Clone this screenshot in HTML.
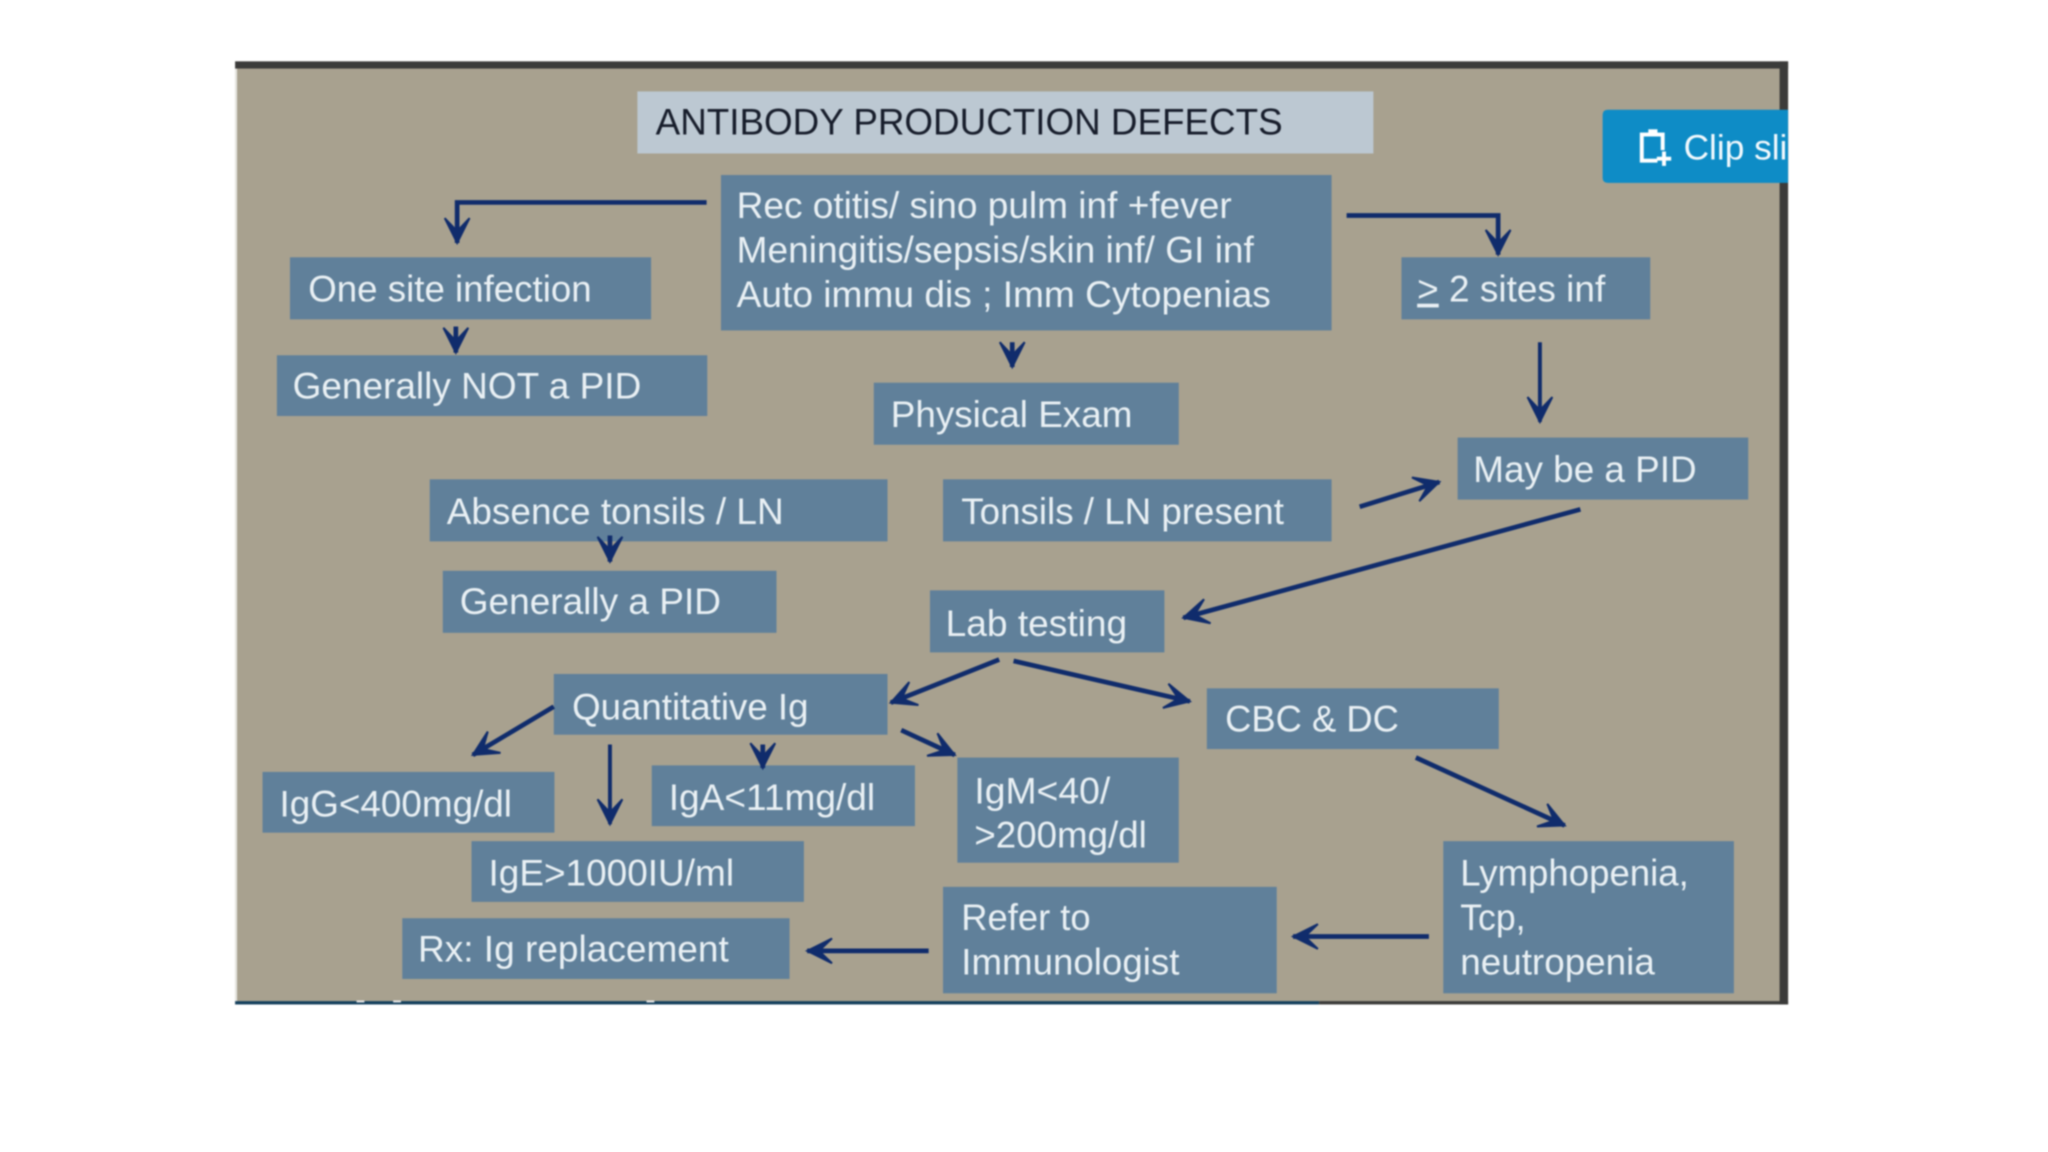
<!DOCTYPE html>
<html>
<head>
<meta charset="utf-8">
<title>Antibody Production Defects</title>
<style>
html,body{margin:0;padding:0;background:#fff;width:2048px;height:1152px;overflow:hidden}
svg{display:block;filter:blur(0.9px)}
text{font-family:"Liberation Sans",sans-serif;font-size:28.5px;fill:#e9f0f4}
.b{fill:#60809a}
.a{fill:none;stroke:#102c6c;stroke-width:3.6;marker-end:url(#h)}
.t{stroke-width:3}
</style>
</head>
<body>
<svg width="2048" height="1152" viewBox="0 0 1568 882" xmlns="http://www.w3.org/2000/svg">
<defs>
<marker id="h" markerUnits="userSpaceOnUse" markerWidth="40" markerHeight="40" refX="22" refY="20" orient="auto" viewBox="0 0 40 40">
<path d="M3 10.500 L22 20 L3 29.500 L13 20 Z" fill="#102c6c" stroke="#102c6c" stroke-width="1.500"/>
</marker>
<clipPath id="c"><rect x="1227" y="84" width="142" height="56"/></clipPath>
</defs>
<rect width="1568" height="882" fill="#fff"/>
<rect x="180" y="47" width="1189" height="722" fill="#a8a18f"/>
<rect x="180" y="47" width="1.500" height="721" fill="#e8e7e2"/>
<rect x="180" y="47" width="1189" height="5.500" fill="#3b3b3a"/>
<rect x="1362.500" y="47" width="6.500" height="722" fill="#3b3b3a"/>
<rect x="180" y="766.500" width="830" height="2.500" fill="#14405e"/>
<rect x="1010" y="766.500" width="359" height="2.500" fill="#3b3b3a"/>
<rect x="273" y="766" width="6" height="1.500" fill="#e8e8e8"/>
<rect x="301" y="766" width="6" height="1.500" fill="#e8e8e8"/>
<rect x="495" y="766" width="6" height="1.500" fill="#e8e8e8"/>

<rect x="488" y="70" width="563.500" height="47.500" fill="#bcc8d2"/>
<rect class="b" x="552" y="134" width="467.500" height="119"/>
<rect class="b" x="222" y="197" width="276.500" height="47.500"/>
<rect class="b" x="212" y="272" width="329.500" height="46.500"/>
<rect class="b" x="1073" y="197" width="190.500" height="47.500"/>
<rect class="b" x="669" y="293" width="233.500" height="47.500"/>
<rect class="b" x="1116" y="335" width="222.500" height="47.500"/>
<rect class="b" x="329" y="367" width="350.500" height="47.500"/>
<rect class="b" x="722" y="367" width="297.500" height="47.500"/>
<rect class="b" x="339" y="437" width="255.500" height="47.500"/>
<rect class="b" x="712" y="452" width="179.500" height="47.500"/>
<rect class="b" x="424" y="516" width="255.500" height="46.500"/>
<rect class="b" x="924" y="527" width="223.500" height="46.500"/>
<rect class="b" x="201" y="591" width="223.500" height="46.500"/>
<rect class="b" x="499" y="586" width="201.500" height="46.500"/>
<rect class="b" x="733" y="580" width="169.500" height="80.500"/>
<rect class="b" x="361" y="644" width="254.500" height="46.500"/>
<rect class="b" x="722" y="679" width="255.500" height="81.500"/>
<rect class="b" x="1105" y="644" width="222.500" height="116.500"/>
<rect class="b" x="308" y="703" width="296.500" height="46.500"/>

<path class="a" d="M541 155 H350 V186"/>
<path class="a" d="M349 250 V270"/>
<path class="a" d="M775 262 V281"/>
<path class="a" d="M1031 165 H1147 V195"/>
<path class="a t" d="M1179 262 V323"/>
<path class="a" d="M1041 388 L1102 369"/>
<path class="a" d="M1210 390 L906 473"/>
<path class="a" d="M467 410 V430"/>
<path class="a" d="M765 505 L682 538"/>
<path class="a" d="M776 506 L911 537"/>
<path class="a" d="M424 541 L362 578"/>
<path class="a t" d="M467 570 V631"/>
<path class="a" d="M584 570 V588"/>
<path class="a" d="M690 559 L731 578"/>
<path class="a" d="M1084 580 L1198 632"/>
<path class="a" d="M1094 717 H990"/>
<path class="a" d="M711 728 H618"/>

<text x="502" y="103" textLength="480" lengthAdjust="spacingAndGlyphs" style="fill:#171d2b">ANTIBODY PRODUCTION DEFECTS</text>
<text x="564" y="167" textLength="379" lengthAdjust="spacingAndGlyphs">Rec otitis/ sino pulm inf +fever</text>
<text x="564" y="201" textLength="396" lengthAdjust="spacingAndGlyphs">Meningitis/sepsis/skin inf/ GI inf</text>
<text x="564" y="235" textLength="409" lengthAdjust="spacingAndGlyphs">Auto immu dis ; Imm Cytopenias</text>
<text x="236" y="231" textLength="217" lengthAdjust="spacingAndGlyphs">One site infection</text>
<text x="224" y="305" textLength="267" lengthAdjust="spacingAndGlyphs">Generally NOT a PID</text>
<text x="1085" y="231" textLength="144" lengthAdjust="spacingAndGlyphs"><tspan text-decoration="underline">&gt;</tspan> 2 sites inf</text>
<text x="682" y="327" textLength="185" lengthAdjust="spacingAndGlyphs">Physical Exam</text>
<text x="1128" y="369" textLength="171" lengthAdjust="spacingAndGlyphs">May be a PID</text>
<text x="342" y="401" textLength="258" lengthAdjust="spacingAndGlyphs">Absence tonsils / LN</text>
<text x="736" y="401" textLength="247" lengthAdjust="spacingAndGlyphs">Tonsils / LN present</text>
<text x="352" y="470" textLength="200" lengthAdjust="spacingAndGlyphs">Generally a PID</text>
<text x="724" y="487" textLength="139" lengthAdjust="spacingAndGlyphs">Lab testing</text>
<text x="438" y="551" textLength="181" lengthAdjust="spacingAndGlyphs">Quantitative Ig</text>
<text x="938" y="560" textLength="133" lengthAdjust="spacingAndGlyphs">CBC &amp; DC</text>
<text x="214" y="625" textLength="178" lengthAdjust="spacingAndGlyphs">IgG&lt;400mg/dl</text>
<text x="512" y="620" textLength="158" lengthAdjust="spacingAndGlyphs">IgA&lt;11mg/dl</text>
<text x="746" y="615" textLength="104" lengthAdjust="spacingAndGlyphs">IgM&lt;40/</text>
<text x="746" y="649" textLength="132" lengthAdjust="spacingAndGlyphs">&gt;200mg/dl</text>
<text x="374" y="678" textLength="188" lengthAdjust="spacingAndGlyphs">IgE&gt;1000IU/ml</text>
<text x="736" y="712" textLength="99" lengthAdjust="spacingAndGlyphs">Refer to</text>
<text x="736" y="746" textLength="167" lengthAdjust="spacingAndGlyphs">Immunologist</text>
<text x="1118" y="678" textLength="175" lengthAdjust="spacingAndGlyphs">Lymphopenia,</text>
<text x="1118" y="712" textLength="50" lengthAdjust="spacingAndGlyphs">Tcp,</text>
<text x="1118" y="746" textLength="149" lengthAdjust="spacingAndGlyphs">neutropenia</text>
<text x="320" y="736" textLength="238" lengthAdjust="spacingAndGlyphs">Rx: Ig replacement</text>

<path d="M1369 84 H1231 Q1227 84 1227 88 V136 Q1227 140 1231 140 H1369 Z" fill="#0e8cc6"/>
<g fill="none" stroke="#fff" stroke-width="3">
<rect x="1257" y="103" width="16" height="20"/>
</g>
<rect x="1262" y="99" width="7" height="5" fill="#fff"/>
<rect x="1269" y="115" width="11" height="11" fill="#0e8cc6"/>
<path d="M1274 116 V127 M1268.500 121.500 H1279.500" stroke="#fff" stroke-width="3"/>
<g clip-path="url(#c)">
<text x="1289" y="122" style="fill:#f2f9fd;font-size:27px">Clip slide</text>
</g>
</svg>
</body>
</html>
